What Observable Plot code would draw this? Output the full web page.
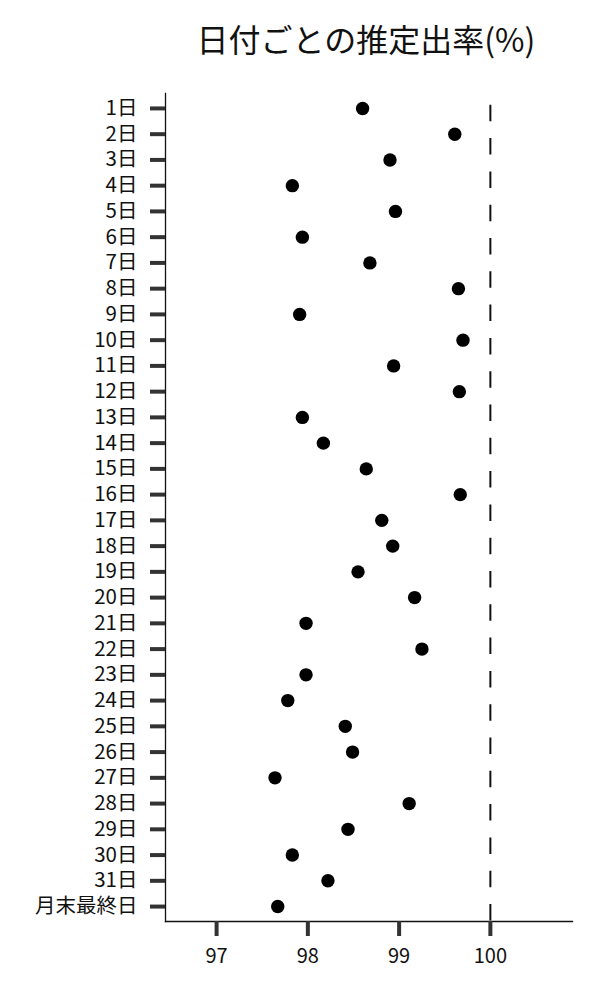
<!DOCTYPE html>
<html><head><meta charset="utf-8">
<script src="https://cdn.jsdelivr.net/npm/d3@7"></script>
<script src="https://cdn.jsdelivr.net/npm/@observablehq/plot@0.6"></script>
<style>
body{margin:0;background:#fff;font-family:"Noto Sans CJK JP",sans-serif;}
#title{width:600px;height:80px;box-sizing:border-box;padding-left:132px;text-align:center;font-size:32px;line-height:76px;color:#111;white-space:nowrap;overflow:hidden;}
#chart svg{display:block;}
</style></head><body>
<div id="title">日付ごとの推定出率(%)</div>
<div id="chart"></div>
<script>
const days = ["1日","2日","3日","4日","5日","6日","7日","8日","9日","10日","11日","12日","13日","14日","15日","16日","17日","18日","19日","20日","21日","22日","23日","24日","25日","26日","27日","28日","29日","30日","31日","月末最終日"];
const rates = [98.60,99.61,98.90,97.83,98.96,97.94,98.68,99.65,97.91,99.70,98.94,99.66,97.94,98.17,98.64,99.67,98.81,98.93,98.55,99.17,97.98,99.25,97.98,97.78,98.41,98.49,97.64,99.11,98.44,97.83,98.22,97.67];
const xTicks = [97,98,99,100];
const xDomain = [96.44,100.9];
const refLine = [100];

const data = days.map((d,i)=>({day:d, rate:rates[i]}));

const chart = Plot.plot({
  width:600, height:920,
  marginTop:13, marginBottom:79, marginLeft:165, marginRight:28,
  style:{fontFamily:'"Noto Sans CJK JP", sans-serif', background:"#fff", color:"#111"},
  x:{domain:xDomain},
  y:{type:"point", domain:days, padding:0.58, round:false},
  marks:[
    Plot.frame({anchor:"left", stroke:"#111", strokeWidth:1.3}),
    Plot.frame({anchor:"bottom", stroke:"#111", strokeWidth:1.3}),
    Plot.ruleX(refLine,{stroke:"#111", strokeWidth:2, strokeDasharray:"16.5,16.8", strokeDashoffset:21.5}),
    Plot.axisY({tickSize:15, tickPadding:13, fontSize:20.5, stroke:"#333", strokeWidth:4, fill:"#111", label:null}),
    Plot.axisX({ticks:xTicks, tickFormat:d=>String(d), tickSize:15, tickPadding:12.6, fontSize:20, stroke:"#333", strokeWidth:4, fill:"#111", label:null}),
    Plot.dot(data,{x:"rate", y:"day", r:6.7, fill:"#000", stroke:"none"})
  ]
});
document.getElementById("chart").appendChild(chart);
</script>
</body></html>
